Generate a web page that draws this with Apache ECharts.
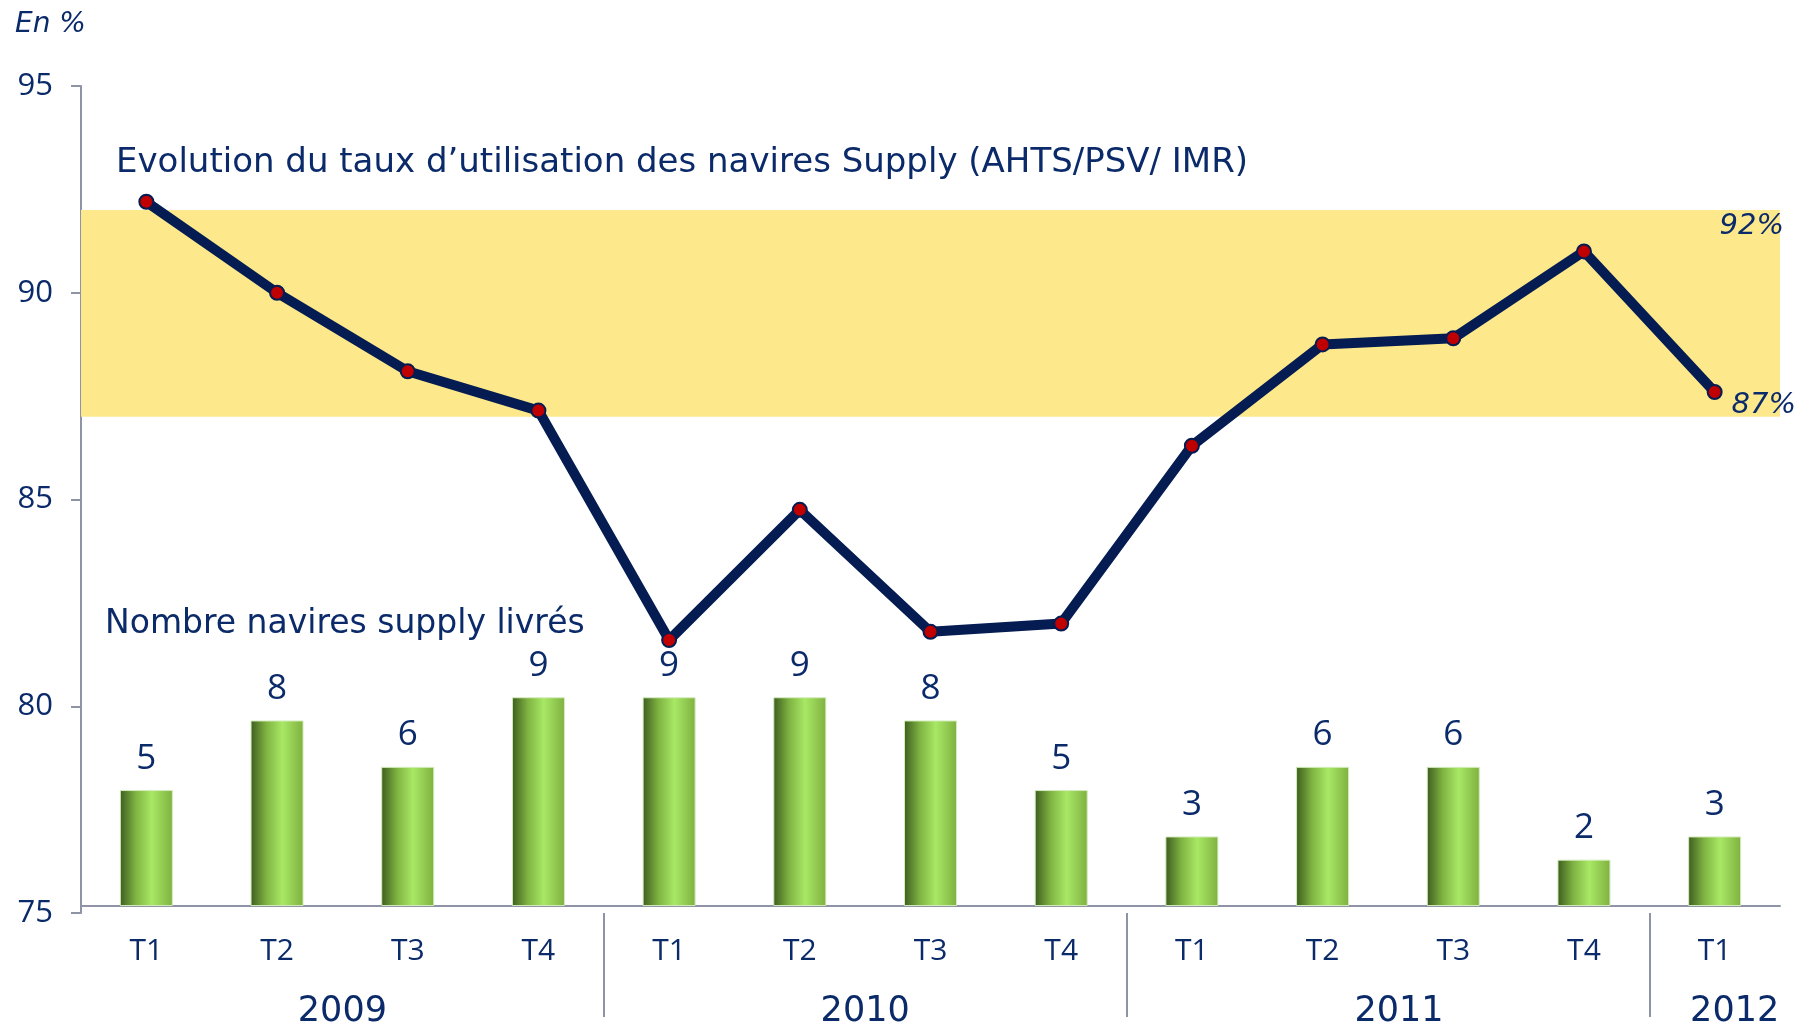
<!DOCTYPE html>
<html>
<head>
<meta charset="utf-8">
<script src="https://cdn.jsdelivr.net/npm/echarts@6/dist/echarts.min.js"></script>
<style>
  html, body { margin: 0; padding: 0; background: #fff; }
  #chart { width: 1813px; height: 1028px; }
</style>
</head>
<body>
<div id="chart"></div>
<script>
// Trimestres affichés sur l'axe horizontal
const quarters = ['T1', 'T2', 'T3', 'T4', 'T1', 'T2', 'T3', 'T4', 'T1', 'T2', 'T3', 'T4', 'T1'];
// Années et nombre de trimestres couverts par chacune
const years = ['2009', '2010', '2011', '2012'];
const quartersPerYear = [4, 4, 4, 1];
// Taux d'utilisation des navires Supply (en %)
const utilisation = [92.2, 90.0, 88.1, 87.15, 81.6, 84.75, 81.8, 82.0, 86.3, 88.75, 88.9, 91.0, 87.6];
// Nombre de navires supply livrés par trimestre
const livraisons = [5, 8, 6, 9, 9, 9, 8, 5, 3, 6, 6, 2, 3];
// Zone de référence (bas, haut) en %
const bande = [87, 92];
// Graduations de l'axe vertical
const yTicks = [75, 80, 85, 90, 95];

const NAVY = '#0b2a6a';
const LINE = '#041c52';
const AXIS = '#8e93a6';
const FONT = 'Open Sans';
const WIDE = 'DejaVu Sans';

// Centres des années et séparateurs entre elles, en position de catégorie
const yearCenters = [];
const yearSeparators = [];
let start = 0;
quartersPerYear.forEach((n, i) => {
  yearCenters.push(start + n / 2 - 0.5);
  start += n;
  if (i < quartersPerYear.length - 1) yearSeparators.push(start - 0.5);
});
// Style de chaque libellé d'année (avec léger décalage pour les dernières)
const yearPad = ['p0', 'p0', 'p1', 'p2'];
const yearText = { color: NAVY, fontSize: 35, fontFamily: WIDE };

const chart = echarts.init(document.getElementById('chart'));

chart.setOption({
  animation: false,
  textStyle: { fontFamily: FONT },
  grid: {
    left: 81, right: 33, top: 86, bottom: 115,
    containLabel: false,
    outerBoundsMode: 'none'
  },
  title: [
    {
      text: 'En %', left: 10, top: 6,
      textStyle: { fontFamily: WIDE, fontSize: 28, fontStyle: 'italic', fontWeight: 'normal', color: NAVY }
    },
    {
      text: 'Evolution du taux d\u2019utilisation des navires Supply (AHTS/PSV/ IMR)', left: 111, top: 141,
      textStyle: { fontFamily: WIDE, fontSize: 34, fontWeight: 'normal', color: NAVY }
    },
    {
      text: 'Nombre navires supply livrés', left: 100, top: 603,
      textStyle: { fontFamily: WIDE, fontSize: 33, fontWeight: 'normal', color: NAVY }
    }
  ],
  xAxis: [
    {
      type: 'category',
      data: quarters,
      boundaryGap: true,
      axisLine: { lineStyle: { color: AXIS, width: 2 } },
      axisTick: { show: false },
      axisLabel: { color: NAVY, fontSize: 30, margin: 23, fontFamily: FONT },
      splitLine: { show: false }
    },
    {
      type: 'value',
      position: 'bottom',
      min: -0.5,
      max: quarters.length - 0.5,
      axisLine: { show: false },
      splitLine: { show: false },
      axisTick: {
        show: true,
        customValues: yearSeparators,
        length: 104,
        lineStyle: { color: AXIS, width: 2 }
      },
      axisLabel: {
        customValues: yearCenters,
        formatter: (v) => {
          const i = yearCenters.indexOf(v);
          return i < 0 ? '' : '{' + yearPad[i] + '|' + years[i] + '}';
        },
        rich: {
          p0: yearText,
          p1: Object.assign({ padding: [0, 0, 0, 22] }, yearText),
          p2: Object.assign({ padding: [0, 0, 0, 40] }, yearText)
        },
        margin: 81
      }
    }
  ],
  yAxis: [
    {
      type: 'value',
      min: yTicks[0],
      max: yTicks[yTicks.length - 1],
      interval: yTicks[1] - yTicks[0],
      axisLine: { show: true, onZero: false, lineStyle: { color: AXIS, width: 2 } },
      axisTick: { show: true, length: 10, lineStyle: { color: AXIS, width: 2 } },
      axisLabel: { color: NAVY, fontSize: 31, margin: 28, fontFamily: FONT },
      splitLine: { show: false }
    },
    {
      type: 'value',
      min: -0.3,
      max: 35.35,
      show: false,
      splitLine: { show: false }
    }
  ],
  series: [
    {
      type: 'bar',
      yAxisIndex: 1,
      data: livraisons,
      barWidth: 53,
      itemStyle: {
        color: new echarts.graphic.LinearGradient(0, 0, 1, 0, [
          { offset: 0, color: '#3d5c1f' },
          { offset: 0.3, color: '#7fb342' },
          { offset: 0.6, color: '#a8e865' },
          { offset: 1, color: '#7fb040' }
        ]),
        borderColor: '#d4ecbc',
        borderWidth: 1
      },
      label: {
        show: true, position: 'top', distance: 14,
        color: NAVY, fontSize: 35, fontFamily: FONT
      },
      z: 2
    },
    {
      type: 'line',
      data: utilisation,
      lineStyle: { color: LINE, width: 10 },
      symbol: 'circle',
      symbolSize: 14,
      itemStyle: { color: '#c00000', borderColor: LINE, borderWidth: 2 },
      z: 5,
      markArea: {
        silent: true,
        itemStyle: { color: '#fde98c' },
        data: [[{ yAxis: bande[0] }, { yAxis: bande[1] }]]
      },
      markLine: {
        silent: true,
        symbol: 'none',
        lineStyle: { color: 'rgba(0,0,0,0)', width: 0 },
        data: [
          {
            yAxis: bande[1],
            label: { position: 'insideEndBottom', distance: [-4, 2] }
          },
          {
            yAxis: bande[0],
            label: { position: 'insideEndTop', distance: [-16, -3] }
          }
        ],
        label: {
          show: true,
          formatter: (p) => p.value + '%',
          color: NAVY, fontSize: 29, fontStyle: 'italic', fontFamily: WIDE
        }
      }
    }
  ]
});
</script>
</body>
</html>
